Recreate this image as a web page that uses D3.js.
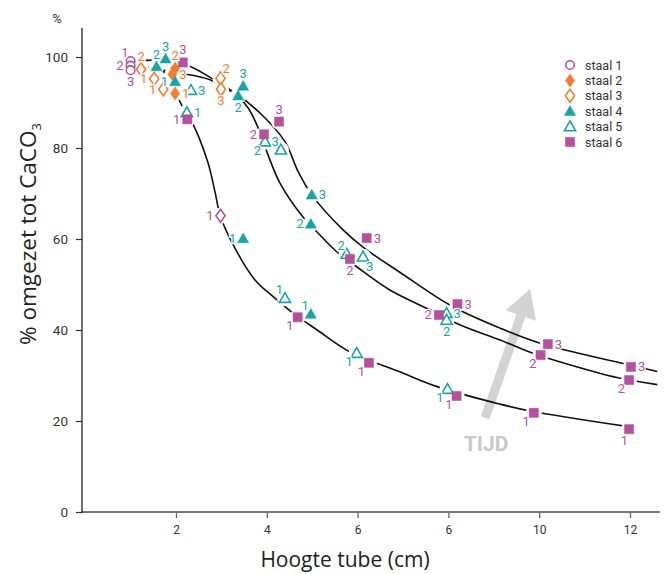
<!DOCTYPE html>
<html><head><meta charset="utf-8">
<script src="https://cdn.jsdelivr.net/npm/d3@7"></script>
<style>
body{margin:0;background:#fff}
svg{display:block}
text{font-family:Roboto,"Noto Sans",sans-serif}
</style>
</head><body>
<svg id="chart" width="664" height="574"></svg>
<script>
// ---------------- DATA ----------------
const seriesNames = ["staal 1", "staal 2", "staal 3", "staal 4", "staal 5", "staal 6"];
const xTickValues = [2, 4, 6, 8, 10, 12];
const xTickLabels = ["2", "4", "6", "6", "10", "12"];
const yTickValues = [0, 20, 40, 60, 80, 100];

// [hoogte tube (cm), % omgezet, meting-label]
const staal1 = [[1.0, 99.1, "1"], [1.0, 98.1, "2"], [1.0, 97.1, "3"]];
const staal2 = [[1.98, 97.5, "2"], [1.92, 96.2, "3"], [1.98, 92.0, "1"]];
const staal3 = [[1.23, 97.3, "2"], [1.52, 95.2, "1"], [1.72, 92.9, "1"], [2.98, 95.3, "2"], [2.99, 92.9, "3"], [2.98, 65.1, "1"]];
const staal4 = [[1.57, 97.9, "2"], [1.77, 99.6, "3"], [1.98, 94.6, "1"], [3.48, 93.6, "3"], [3.37, 91.5, "2"], [3.48, 60.1, "1"], [4.99, 69.7, "3"], [4.97, 63.3, "2"], [4.97, 43.5, "1"]];
const staal5 = [[2.33, 92.7, "3"], [2.24, 87.8, "1"], [3.96, 81.4, "2"], [4.31, 79.6, "3"], [4.40, 47.0, "1"], [5.76, 56.7, "2"], [6.12, 56.1, "3"], [7.96, 43.7, "3"], [7.96, 42.2, "2"], [5.98, 34.9, "1"], [7.98, 27.0, "1"]];
const staal6 = [[2.15, 98.8, "3"], [2.25, 86.3, "1"], [4.27, 85.8, "3"], [3.94, 83.0, "2"], [4.68, 42.8, "1"], [6.2, 60.2, "3"], [5.83, 55.6, "2"], [8.2, 45.7, "3"], [7.79, 43.3, "2"], [10.19, 36.9, "3"], [10.03, 34.5, "2"], [12.02, 31.9, "3"], [11.98, 29.0, "2"], [6.25, 32.8, "1"], [8.18, 25.5, "1"], [9.88, 21.8, "1"], [11.98, 18.2, "1"]];

// trend curves (knots)
const curve1 = [[1.0, 98.7], [1.5, 97.6], [1.8, 96.2], [2.02, 91.5], [2.2, 88.0], [2.37, 85.3], [2.70, 76.9], [2.86, 70.3], [2.97, 65.3], [3.26, 58.7], [3.74, 51.0], [4.18, 47.0], [4.58, 43.7], [5.11, 40.0], [5.83, 35.2], [6.93, 30.8], [7.77, 27.5], [9.14, 23.7], [9.80, 22.2], [12.0, 18.7]];
const curve2 = [[1.0, 98.6], [1.27, 97.9], [2.0, 96.6], [2.75, 95.0], [3.37, 91.2], [3.59, 88.8], [3.81, 84.4], [4.0, 79.2], [4.29, 72.3], [4.8, 64.8], [5.1, 61.6], [5.54, 57.2], [5.98, 53.9], [6.71, 48.8], [7.6, 44.4], [8.26, 41.1], [9.14, 37.8], [9.83, 35.0], [10.39, 33.2], [11.74, 29.5], [12.6, 28.0]];
const curve3 = [[1.0, 99.3], [2.15, 98.5], [2.79, 95.3], [3.37, 91.6], [3.89, 87.3], [4.4, 81.4], [4.69, 74.8], [4.99, 69.7], [5.68, 62.0], [6.12, 58.2], [6.93, 52.7], [8.03, 45.5], [9.14, 40.4], [10.02, 37.1], [12.0, 32.3], [12.6, 30.9]];

// "TIJD" annotation arrow (data coordinates)
const arrowTail = [8.81, 20.7];
const arrowTip = [9.8, 49.0];
const arrowText = "TIJD";
const arrowTextPos = [8.83, 13.4];

// ---------------- STYLE / LAYOUT ----------------
const labelPos = [
  ["tl", "l", "b"],
  ["t", "r", "r"],
  ["t", "l", "l", "tr", "b", "l"],
  ["t", "t", "l", "t", "b", "l", "r", "l", "tl"],
  ["r", "r", "lb", "tl", "tl", "tl", "br", "r", "b", "lb", "lb"],
  ["t", "l", "t", "l", "lb", "r", "b", "r", "l", "r", "lb", "r", "lb", "lb", "lb", "lb", "bl"]
];
const PURPLE = "#b3519d", ORANGE = "#f07d32", TEAL = "#17a5a6";
const styles = [
  {shape: "circle", fill: false, color: PURPLE},
  {shape: "diamond", fill: true, color: ORANGE},
  {shape: "diamond", fill: false, color: ORANGE},
  {shape: "triangle", fill: true, color: TEAL},
  {shape: "triangle", fill: false, color: TEAL},
  {shape: "square", fill: true, color: PURPLE}
];
const colorOverride = {"2-5": PURPLE}; // diamond drawn in purple in the original
const offsets = {
  l: {a: "end", dx: -7, dy: 4.5},
  r: {a: "start", dx: 7, dy: 4.5},
  t: {a: "middle", dx: 0, dy: -8},
  b: {a: "middle", dx: 0, dy: 16},
  tl: {a: "end", dx: -2, dy: -4},
  tr: {a: "start", dx: 2, dy: -5},
  bl: {a: "end", dx: -1, dy: 16},
  br: {a: "start", dx: 3, dy: 14},
  lb: {a: "end", dx: -4, dy: 13}
};

const allSeries = [staal1, staal2, staal3, staal4, staal5, staal6];

const svg = d3.select("#chart");
const x = d3.scaleLinear().domain([0, 13]).range([85.2, 85.2 + 13 * 45.4]);
const y = d3.scaleLinear().domain([0, 100]).range([512, 57]);

function shapePath(shape) {
  switch (shape) {
    case "circle": return "M4.3,0A4.3,4.3 0 1,1 -4.3,0A4.3,4.3 0 1,1 4.3,0Z";
    case "diamond": return "M0,-6.5L4.6,0L0,6.5L-4.6,0Z";
    case "triangle": return "M0,-5.6L5.6,4.2L-5.6,4.2Z";
    case "square": return "M-4.6,-4.6H4.6V4.6H-4.6Z";
  }
}

// axes
const xAxis = svg.append("g").attr("transform", "translate(0,512)")
  .call(d3.axisBottom(x).tickValues(xTickValues).tickFormat((d, i) => xTickLabels[i]).tickSize(6).tickPadding(7));
xAxis.select(".domain").remove();
xAxis.selectAll("line").attr("stroke", "#666").attr("stroke-width", 1.3);
xAxis.selectAll("text").attr("fill", "#333").style("font-size", "12px");
svg.append("line").attr("x1", 82).attr("x2", 660).attr("y1", 512).attr("y2", 512)
  .attr("stroke", "#777").attr("stroke-width", 2);

const yAxis = svg.append("g").attr("transform", "translate(82,0)")
  .call(d3.axisLeft(y).tickValues(yTickValues).tickSize(6).tickPadding(8));
yAxis.select(".domain").remove();
yAxis.selectAll("line").attr("stroke", "#333").attr("stroke-width", 1.2);
yAxis.selectAll("text").attr("fill", "#333").style("font-size", "13.5px");
svg.append("line").attr("x1", 82).attr("x2", 82).attr("y1", 28).attr("y2", 513)
  .attr("stroke", "#111").attr("stroke-width", 1.2);

svg.append("text").attr("x", 57).attr("y", 23).attr("text-anchor", "middle")
  .attr("fill", "#333").style("font-size", "13px").text("%");

const yt = svg.append("text").attr("transform", "translate(36,234) rotate(-90)")
  .attr("text-anchor", "middle").attr("fill", "#222")
  .style("font-family", "'Open Sans', Roboto, sans-serif").style("font-size", "22.5px");
yt.append("tspan").text("% omgezet tot CaCO");
yt.append("tspan").attr("dy", 5).style("font-size", "13px").text("3");

svg.append("text").attr("x", 345).attr("y", 567).attr("text-anchor", "middle")
  .attr("fill", "#222").style("font-family", "'Open Sans', Roboto, sans-serif")
  .style("font-size", "21px").text("Hoogte tube (cm)");

// arrow
(function () {
  const tx = x(arrowTail[0]), ty = y(arrowTail[1]);
  const hx = x(arrowTip[0]), hy = y(arrowTip[1]);
  const len = Math.hypot(hx - tx, hy - ty);
  const ux = (hx - tx) / len, uy = (hy - ty) / len;
  const px = -uy, py = ux;
  const sw = 4.6, hw = 16, hl = 28;
  const bx = hx - ux * hl, by = hy - uy * hl;
  const pts = [
    [tx + px * sw, ty + py * sw], [bx + px * sw, by + py * sw], [bx + px * hw, by + py * hw],
    [hx, hy], [bx - px * hw, by - py * hw], [bx - px * sw, by - py * sw], [tx - px * sw, ty - py * sw]
  ];
  svg.append("path").attr("d", "M" + pts.map(p => p.join(",")).join("L") + "Z").attr("fill", "#d3d3d3");
  svg.append("text").attr("x", x(arrowTextPos[0])).attr("y", y(arrowTextPos[1]))
    .attr("text-anchor", "middle").attr("fill", "#c8c8c8")
    .style("font-size", "21px").style("font-weight", "bold").text(arrowText);
})();

// curves
const line = d3.line().x(d => x(d[0])).y(d => y(d[1])).curve(d3.curveCatmullRom.alpha(0.5));
[curve1, curve2, curve3].forEach(c => {
  svg.append("path").attr("d", line(c)).attr("fill", "none").attr("stroke", "#111").attr("stroke-width", 1.6);
});

// halos
const halo = svg.append("g");
allSeries.forEach(s => s.forEach(d => {
  halo.append("circle").attr("cx", x(d[0])).attr("cy", y(d[1])).attr("r", 8).attr("fill", "#fff");
}));

// markers + labels
const mk = svg.append("g");
const lb = svg.append("g");
allSeries.forEach((s, si) => {
  const st = styles[si];
  s.forEach((d, i) => {
    const col = colorOverride[si + "-" + i] || st.color;
    const px = x(d[0]), py = y(d[1]);
    mk.append("path").attr("d", shapePath(st.shape)).attr("transform", `translate(${px},${py})`)
      .attr("fill", st.fill ? col : "#fff").attr("stroke", col).attr("stroke-width", st.fill ? 0.5 : 1.6);
    const o = offsets[labelPos[si][i]];
    lb.append("text").attr("x", px + o.dx).attr("y", py + o.dy).attr("text-anchor", o.a)
      .attr("fill", col).style("font-size", "13px")
      .attr("stroke", "#fff").attr("stroke-width", 2.5).attr("paint-order", "stroke")
      .text(d[2]);
  });
});

// legend
const lg = svg.append("g");
seriesNames.forEach((n, i) => {
  const st = styles[i];
  const ly = 65 + i * 15.4;
  lg.append("path").attr("d", shapePath(st.shape)).attr("transform", `translate(570,${ly})`)
    .attr("fill", st.fill ? st.color : "#fff").attr("stroke", st.color).attr("stroke-width", st.fill ? 0.5 : 1.6);
  lg.append("text").attr("x", 585).attr("y", ly + 4.5).attr("fill", "#333").style("font-size", "12.5px").text(n);
});
</script>
</body></html>
